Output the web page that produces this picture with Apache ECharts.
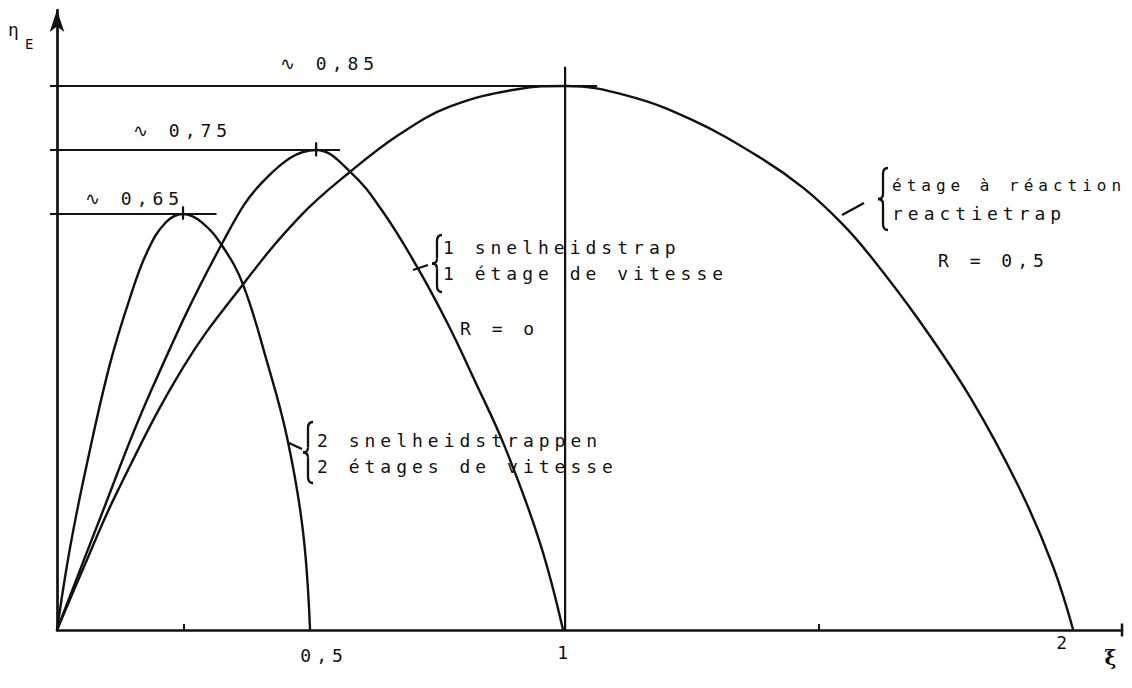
<!DOCTYPE html>
<html><head><meta charset="utf-8">
<script src="https://cdn.jsdelivr.net/npm/echarts@6/dist/echarts.min.js"></script>
<style>
html,body{margin:0;padding:0;background:#fff;}
#chart{width:1132px;height:688px;}
#chart text{letter-spacing:5px;}
</style></head><body><div id="chart"></div>
<script>
// ---- data ----
// two velocity stages (2 snelheidstrappen)
const xiTwoStages  = [0, 0.026, 0.059, 0.104, 0.144, 0.177, 0.213, 0.248, 0.285, 0.327, 0.366, 0.413, 0.453, 0.484, 0.498];
const etaTwoStages = [0, 0.13, 0.26, 0.415, 0.52, 0.59, 0.636, 0.65, 0.637, 0.598, 0.54, 0.42, 0.30, 0.155, 0];
// one velocity stage (1 snelheidstrap), R = 0
const xiOneStage  = [0, 0.085, 0.183, 0.327, 0.413, 0.51, 0.577, 0.64, 0.709, 0.768, 0.819, 0.882, 0.951, 0.996];
const etaOneStage = [0, 0.175, 0.37, 0.607, 0.707, 0.75, 0.716, 0.655, 0.567, 0.48, 0.395, 0.285, 0.135, 0];
// reaction stage (reactietrap), R = 0,5
const xiReaction  = [0, 0.051, 0.118, 0.248, 0.366, 0.478, 0.577, 0.675, 0.774, 0.906, 1.0, 1.122, 1.25, 1.384, 1.47, 1.545, 1.60, 1.70, 1.80, 1.895, 1.96, 2.0];
const etaReaction = [0, 0.095, 0.215, 0.41, 0.54, 0.646, 0.716, 0.775, 0.818, 0.845, 0.85, 0.835, 0.797, 0.738, 0.69, 0.635, 0.585, 0.48, 0.36, 0.22, 0.10, 0];
// peak levels and their guide lines
const peakLevels = [0.65, 0.75, 0.85];
const peakLabels = ['∿ 0,65', '∿ 0,75', '∿ 0,85'];
const guideEnds  = [0.314, 0.557, 1.063];
const peakXi     = [0.248, 0.51, 1.0];
const verticalGuideTop = 0.88;
// axis ticks / labels
const xLabelValues = [0.5, 1, 2];
const xLabelTexts  = ['0,5', '1', '2'];
const xMinorTicks  = [0.25, 1.5];

const zip = (a, b) => a.map((v, i) => [v, b[i]]);
const INK = '#111';
const mono = '"DejaVu Sans Mono", "Liberation Mono", monospace';

const chart = echarts.init(document.getElementById('chart'), null, {renderer: 'svg'});

const curve = (name, data) => ({
  name, type: 'line', data, symbol: 'none', smooth: 0.4, silent: true,
  lineStyle: {color: INK, width: 2.4}
});
const straight = (data, w) => ({
  type: 'line', data, symbol: 'none', silent: true,
  lineStyle: {color: INK, width: w || 2.2}
});

const series = [
  curve('2 snelheidstrappen', zip(xiTwoStages, etaTwoStages)),
  curve('1 snelheidstrap', zip(xiOneStage, etaOneStage)),
  curve('reactietrap', zip(xiReaction, etaReaction))
];
peakLevels.forEach((lv, i) => series.push(straight([[0, lv], [guideEnds[i], lv]])));
series.push(straight([[peakXi[2], 0], [peakXi[2], verticalGuideTop]]));
series.push(straight([[peakXi[0], peakLevels[0] - 0.009], [peakXi[0], peakLevels[0] + 0.012]]));
series.push(straight([[peakXi[1], peakLevels[1] - 0.01], [peakXi[1], peakLevels[1] + 0.012]]));

function txt(text, x, y, size, family) {
  return {type: 'text', x, y, silent: true,
    style: {text, font: (size || 18) + 'px ' + (family || mono), fill: INK,
      textAlign: 'left', textVerticalAlign: 'middle', align: 'left', verticalAlign: 'middle'}};
}
function seg(x1, y1, x2, y2) {
  return {type: 'line', silent: true, shape: {x1, y1, x2, y2}, style: {stroke: INK, lineWidth: 2.3}};
}
function bez(x1, y1, cx, cy, x2, y2) {
  return {type: 'bezierCurve', silent: true, shape: {x1, y1, cpx1: cx, cpy1: cy, x2, y2},
    style: {stroke: INK, lineWidth: 2.3, fill: 'none'}};
}
function brace(x, y0, y1) {
  const yc = (y0 + y1) / 2;
  return [
    bez(x + 5, y0, x, y0, x, y0 + 6),
    seg(x, y0 + 6, x, yc - 5),
    bez(x, yc - 5, x, yc, x - 5, yc),
    bez(x - 5, yc, x, yc, x, yc + 5),
    seg(x, yc + 5, x, y1 - 6),
    bez(x, y1 - 6, x, y1, x + 5, y1)
  ];
}

const graphic = [
  txt('η', 8, 29, 18), txt('E', 25, 44, 14),
  txt(peakLabels[2], 280, 63), txt(peakLabels[1], 133, 130), txt(peakLabels[0], 85, 198),
  txt('1 snelheidstrap', 443, 247), txt('1 étage de vitesse', 443, 273), txt('R = o', 460, 328),
  txt('2 snelheidstrappen', 317, 440), txt('2 étages de vitesse', 317, 466),
  txt('étage à réaction', 892, 185, 16), txt('reactietrap', 892, 213), txt('R = 0,5', 938, 260),
  ...brace(437, 235, 292), seg(413, 270, 428, 265),
  ...brace(308, 422, 483), seg(289, 443, 302, 449),
  ...brace(883, 168, 230), seg(842, 215, 864, 203)
];

const option = {
  backgroundColor: '#fff',
  animation: false,
  grid: {left: 57, right: 10, top: 10, bottom: 58, containLabel: false, outerBoundsMode: 'none'},
  xAxis: {
    type: 'value', min: 0, max: 2.096, splitLine: {show: false},
    axisLine: {onZero: false, lineStyle: {color: INK, width: 2.7}, symbol: ['none', 'rect'], symbolSize: [13, 2.5]},
    axisTick: {show: true, inside: true, length: 6, customValues: xMinorTicks, lineStyle: {color: INK, width: 2}},
    axisLabel: {
      customValues: xLabelValues, margin: 25, color: INK, fontFamily: mono, fontSize: 18, verticalAlign: 'middle',
      formatter: (v) => { const i = xLabelValues.indexOf(v); return '{' + ['a', 'b', 'c'][i] + '|' + xLabelTexts[i] + '}'; },
      rich: {
        a: {fontFamily: mono, fontSize: 18, color: INK, padding: [0, 0, 0, 26]},
        b: {fontFamily: mono, fontSize: 18, color: INK, padding: [0, 0, 6, 0]},
        c: {fontFamily: mono, fontSize: 18, color: INK, padding: [0, 18, 26, 0]}
      }
    },
    name: 'ξ', nameLocation: 'end', nameGap: -9, nameMoveOverlap: false,
    nameTextStyle: {fontFamily: '"DejaVu Serif", serif', fontSize: 20, fontWeight: 'bold', color: INK,
      align: 'center', verticalAlign: 'top', padding: [18, 0, 0, 0]}
  },
  yAxis: {
    type: 'value', min: 0, max: 0.96875, splitLine: {show: false},
    axisLine: {onZero: false, lineStyle: {color: INK, width: 2.7}, symbol: ['none', 'arrow'], symbolSize: [11, 22]},
    axisTick: {show: true, inside: false, length: 7, customValues: peakLevels, lineStyle: {color: INK, width: 2}},
    axisLabel: {show: false}
  },
  series,
  graphic
};
chart.setOption(option);
</script></body></html>
